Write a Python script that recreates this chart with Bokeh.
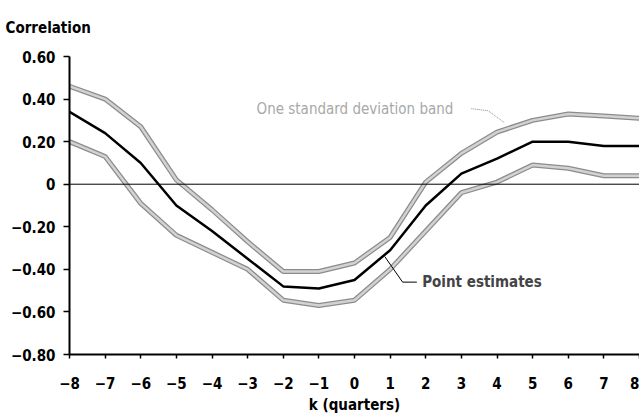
from bokeh.plotting import figure
from bokeh.models import Label, Span, FixedTicker, Range1d
from bokeh.embed import file_html
from bokeh.resources import INLINE

k = [-8, -7, -6, -5, -4, -3, -2, -1, 0, 1, 2, 3, 4, 5, 6, 7, 8]
point = [0.34, 0.24, 0.10, -0.10, -0.22, -0.35, -0.48, -0.49, -0.45, -0.31, -0.10, 0.05, 0.12, 0.20, 0.20, 0.18, 0.18]
upper = [0.46, 0.40, 0.27, 0.02, -0.12, -0.27, -0.41, -0.41, -0.37, -0.25, 0.01, 0.145, 0.245, 0.30, 0.33, 0.32, 0.31]
lower = [0.20, 0.13, -0.09, -0.24, -0.32, -0.40, -0.545, -0.57, -0.545, -0.40, -0.22, -0.04, 0.01, 0.09, 0.075, 0.04, 0.04]

y_ticks = [0.6, 0.4, 0.2, 0.0, -0.2, -0.4, -0.6, -0.8]
y_labels = ["0.60", "0.40", "0.20", "0", "\u22120.20", "\u22120.40", "\u22120.60", "\u22120.80"]
x_ticks = k
x_labels = [("\u2212" + str(-v)) if v < 0 else str(v) for v in k]

FONT = "DejaVu Sans Condensed"

p = figure(width=639, height=416, output_backend="svg", toolbar_location=None,
           x_range=Range1d(-8, 8), y_range=Range1d(-0.8, 0.6),
           min_border_left=69, min_border_right=0, min_border_top=10, min_border_bottom=10,
           title="Correlation")
p.outline_line_color = None
p.grid.grid_line_color = None
p.background_fill_color = "white"

p.title.align = "left"
p.title.vertical_align = "top"
p.title.offset = -64
p.title.text_font = FONT
p.title.text_font_style = "bold"
p.title.text_font_size = "15px"
p.title.text_color = "black"
p.title.standoff = 36

for ax in (p.xaxis[0], p.yaxis[0]):
    ax.axis_line_color = "black"
    ax.axis_line_width = 2
    ax.major_tick_line_color = "black"
    ax.major_tick_line_width = 1.5
    ax.minor_tick_line_color = None
    ax.major_tick_in = 0
    ax.major_label_text_font = FONT
    ax.major_label_text_font_style = "bold"
    ax.major_label_text_font_size = "15px"
    ax.major_label_text_color = "black"

p.yaxis.ticker = FixedTicker(ticks=y_ticks)
p.yaxis.major_label_overrides = {t: l for t, l in zip(y_ticks, y_labels)}
p.yaxis.major_tick_out = 6
p.yaxis.major_label_standoff = 8

p.xaxis.ticker = FixedTicker(ticks=x_ticks)
p.xaxis.major_label_overrides = {t: l for t, l in zip(x_ticks, x_labels)}
p.xaxis.major_tick_out = 4
p.xaxis.major_label_standoff = 18
p.xaxis.axis_label = "k (quarters)"
p.xaxis.axis_label_text_font = FONT
p.xaxis.axis_label_text_font_style = "bold"
p.xaxis.axis_label_text_font_size = "15px"
p.xaxis.axis_label_text_color = "black"
p.xaxis.axis_label_standoff = 4

p.add_layout(Span(location=0, dimension="width", line_color="black", line_width=1))

for band in (upper, lower):
    p.line(k, band, line_color="#8c8c8c", line_width=5)
    p.line(k, band, line_color="#d2d2d2", line_width=2.5)

p.line(k, point, line_color="black", line_width=2.5)

p.add_layout(Label(x=-2.75, y=0.355, text="One standard deviation band", text_font=FONT,
                   text_font_size="15px", text_color="#a8a8a8", text_baseline="middle"))
p.line([3.28, 3.75, 4.2], [0.355, 0.345, 0.29], line_color="#888888", line_width=1, line_dash="1 1")

p.add_layout(Label(x=1.9, y=-0.46, text="Point estimates", text_font=FONT,
                   text_font_style="bold", text_font_size="15px", text_baseline="middle"))
p.line([0.85, 1.35, 1.75], [-0.34, -0.46, -0.46], line_color="black", line_width=1)

open("out.html", "w").write(file_html(p, INLINE))
